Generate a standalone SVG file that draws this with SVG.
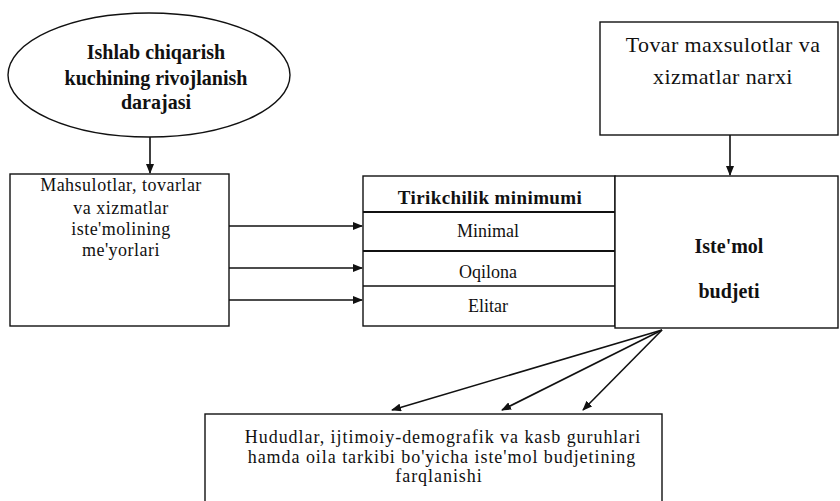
<svg xmlns="http://www.w3.org/2000/svg" width="840" height="501" viewBox="0 0 840 501">
<defs>
<marker id="ah" markerWidth="10" markerHeight="8" refX="9" refY="4" orient="auto" markerUnits="userSpaceOnUse">
<path d="M0,0 L10,4 L0,8 Z" fill="#111"/>
</marker>
<style>
.box{fill:#fff;stroke:#111;stroke-width:1.4}
.thick{fill:none;stroke:#111;stroke-width:2.2}
.conn{fill:none;stroke:#111;stroke-width:1.6;marker-end:url(#ah)}
.t{font-family:"Liberation Serif","Times New Roman",serif;fill:#111;text-anchor:middle}
.b{font-weight:bold}
</style>
</defs>
<rect width="840" height="501" fill="#fff"/>
<g id="node-ellipse">
<ellipse class="box" cx="149" cy="75" rx="141" ry="62"/>
<text class="t b" x="156" y="59" font-size="20">Ishlab chiqarish</text>
<text class="t b" x="156" y="85" font-size="20">kuchining rivojlanish</text>
<text class="t b" x="156" y="109" font-size="20">darajasi</text>
</g>
<g id="node-norms">
<rect class="box" x="10" y="174" width="219" height="152"/>
<text class="t" x="121" y="191" font-size="18" letter-spacing="0.5">Mahsulotlar, tovarlar</text>
<text class="t" x="121" y="214" font-size="18" letter-spacing="0.5">va xizmatlar</text>
<text class="t" x="121" y="235" font-size="18" letter-spacing="0.5">iste'molining</text>
<text class="t" x="121" y="256" font-size="18" letter-spacing="0.5">me'yorlari</text>
</g>
<g id="node-prices">
<rect class="box" x="600" y="22" width="238" height="113"/>
<text class="t" x="723" y="52" font-size="22" letter-spacing="0.4">Tovar maxsulotlar va</text>
<text class="t" x="723" y="84" font-size="22" letter-spacing="0.4">xizmatlar narxi</text>
</g>
<g id="node-minimum">
<rect class="box" x="363" y="176" width="252" height="150"/>
<line class="thick" x1="363" y1="212" x2="615" y2="212"/>
<line class="thick" x1="363" y1="251" x2="615" y2="251"/>
<line class="box" x1="363" y1="286" x2="615" y2="286"/>
<text class="t b" x="490" y="204" font-size="19" letter-spacing="0.4">Tirikchilik minimumi</text>
<text class="t" x="488" y="237" font-size="18">Minimal</text>
<text class="t" x="488" y="278" font-size="18">Oqilona</text>
<text class="t" x="488" y="312" font-size="18">Elitar</text>
</g>
<g id="node-budget">
<rect class="box" x="615" y="176" width="223" height="152"/>
<text class="t b" x="729" y="253" font-size="20">Iste'mol</text>
<text class="t b" x="729" y="298" font-size="20">budjeti</text>
</g>
<g id="node-diff">
<rect class="box" x="205" y="414" width="457" height="100"/>
<text class="t" x="443" y="443" font-size="18" letter-spacing="0.95">Hududlar, ijtimoiy-demografik va kasb guruhlari</text>
<text class="t" x="442" y="463" font-size="18" letter-spacing="0.95">hamda oila tarkibi bo'yicha iste'mol budjetining</text>
<text class="t" x="439" y="482" font-size="18" letter-spacing="0.95">farqlanishi</text>
</g>
<g id="connectors">
<line class="conn" x1="150" y1="137" x2="150" y2="173"/>
<line class="conn" x1="730" y1="135" x2="730" y2="175"/>
<line class="conn" x1="229" y1="226" x2="362" y2="226"/>
<line class="conn" x1="229" y1="268" x2="362" y2="268"/>
<line class="conn" x1="229" y1="300" x2="362" y2="300"/>
<line class="conn" x1="662" y1="330" x2="392" y2="410"/>
<line class="conn" x1="662" y1="330" x2="502" y2="410"/>
<line class="conn" x1="662" y1="330" x2="583" y2="410"/>
</g>
</svg>
